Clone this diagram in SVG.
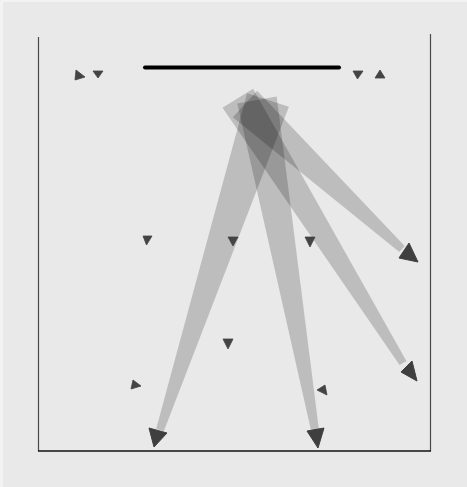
<svg xmlns="http://www.w3.org/2000/svg" width="467" height="487" viewBox="0 0 467 487">
<style>
.frame{stroke:#4a4a4a;stroke-width:1.2;fill:none}
.band{fill:#000;fill-opacity:0.19;stroke:none}
.head{fill:#3f3f3f;stroke:#3f3f3f;stroke-width:1;stroke-linejoin:round}
.mark{fill:#444;stroke:#444;stroke-width:0.8;stroke-linejoin:round}
</style>
<rect x="0" y="0" width="467" height="487" fill="#f3f3f3"/>
<rect x="3" y="2" width="464" height="485" fill="#e9e9e9"/>
<g id="frame">
<line class="frame" x1="38.5" y1="37" x2="38.5" y2="451"/>
<line class="frame" x1="430.5" y1="34" x2="430.5" y2="451"/>
<line x1="38" y1="451" x2="431" y2="451" stroke="#111" stroke-width="1.5"/>
</g>
<g id="bar">
<line x1="145" y1="67.5" x2="339" y2="67.5" stroke="#000" stroke-width="4" stroke-linecap="round"/>
</g>
<g id="connectors">
<polygon class="band" points="247.1,93.2 288.9,106.8 163.8,431.2 156.2,428.8"/>
<polygon class="band" points="237.3,103.5 276.7,96.5 318.9,429.3 311.1,430.7"/>
<polygon class="band" points="222.5,107.7 253.1,88.7 406.4,360.9 399.6,365.1"/>
<polygon class="band" points="232.8,117.2 257.2,90.8 404.7,246.1 399.3,251.9"/>
<polygon class="head" points="149,428 167,433 154,447"/>
<polygon class="head" points="307,431 324,428 318,448"/>
<polygon class="head" points="409,243 418,262 399,258"/>
<polygon class="head" points="412,361 417,381 401,372"/>
</g>
<g id="marks">
<polygon class="mark" points="76,70 85,77 75,80"/>
<polygon class="mark" points="93,71 103,71 98,78"/>
<polygon class="mark" points="353,71 363,71 357.5,79"/>
<polygon class="mark" points="380,70 385,78 375,78"/>
<polygon class="mark" points="143,236 152,236 146.5,245"/>
<polygon class="mark" points="228,237 238,237 233,246"/>
<polygon class="mark" points="305,237 315,237 310,247"/>
<polygon class="mark" points="223,339 233,339 228,349"/>
<polygon class="mark" points="133,380 141,386 131,389"/>
<polygon class="mark" points="325,385 327,395 317,390"/>
</g>
</svg>
